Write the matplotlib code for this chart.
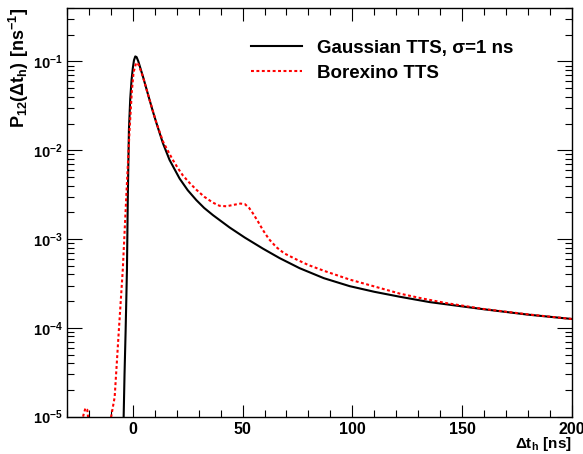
import matplotlib
matplotlib.use('Agg')
import matplotlib.pyplot as plt
from matplotlib.ticker import FixedLocator, MultipleLocator, LogLocator, NullFormatter
import numpy as np

# values
gauss_t = [-4.6, -4.2, -3.8, -3.3, -2.7, -2.3, -1.8, -1.2, -0.6, 0.0, 0.5, 1.1,
           1.7, 2.5, 3.5, 4.6, 6.1, 7.6, 9.0, 10.7, 13.7, 16.7, 21.3, 25.0, 28.9,
           32.5, 36.5, 44.1, 51.0, 59.3, 66.9, 76.0, 87.0, 98.8, 110.0, 121.7,
           135.3, 144.5, 160.0, 180.0, 200.0]
gauss_p = [5e-6, 1e-5, 3e-5, 9.3e-5, 4.5e-4, 3.0e-3, 0.017, 0.038, 0.062, 0.085,
           0.103, 0.114, 0.112, 0.100, 0.083, 0.0676, 0.050, 0.037, 0.028, 0.0204,
           0.0120, 0.0078, 0.0048, 0.00355, 0.00275, 0.00224, 0.00186, 0.00135,
           0.00104, 0.00078, 0.00061, 0.00047, 0.000363, 0.000295, 0.000255,
           0.000224, 0.000195, 0.000182, 0.000162, 0.000141, 0.000126]

borex_t = [-24.5, -23.5, -22.5, -21.6, -20.8, -20.0, -19.0, -12.0, -10.2, -9.9,
           -8.3, -6.4, -4.6, -3.0, -1.5, -0.5, 0.3, 1.5, 2.5, 3.5, 4.6, 7.6, 10.7,
           13.7, 16.0, 18.2, 20.5, 22.8, 25.8, 28.9, 32.5, 36.5, 39.5, 42.6, 46.0,
           49.0, 51.0, 53.0, 54.7, 57.0, 59.3, 62.0, 65.4, 69.0, 74.5, 80.0, 87.0,
           98.8, 110.0, 121.7, 132.0, 142.9, 160.0, 180.0, 200.0]
borex_p = [5e-6, 8e-6, 1.05e-5, 1.25e-5, 1.2e-5, 8e-6, 4e-6, 3e-6, 9e-6, 1e-5,
           1.66e-5, 9.3e-5, 4.5e-4, 3.0e-3, 0.017, 0.045, 0.075, 0.097, 0.093,
           0.080, 0.067, 0.037, 0.0205, 0.0126, 0.0098, 0.0078, 0.0063, 0.0052,
           0.0043, 0.0036, 0.0030, 0.00257, 0.00237, 0.00234, 0.00243, 0.00251,
           0.00248, 0.00224, 0.00195, 0.00158, 0.00126, 0.00100, 0.00081,
           0.00069, 0.00059, 0.00051, 0.00044, 0.00035, 0.000293, 0.000243,
           0.000214, 0.00019, 0.000163, 0.000142, 0.000126]

ytick_vals = [1e-5, 1e-4, 1e-3, 1e-2, 1e-1]
ytick_labels = [r'$\mathrm{10^{-5}}$', r'$\mathrm{10^{-4}}$', r'$\mathrm{10^{-3}}$',
                r'$\mathrm{10^{-2}}$', r'$\mathrm{10^{-1}}$']

plt.rcParams['font.family'] = ['Liberation Sans', 'DejaVu Sans']
plt.rcParams['font.weight'] = 'bold'
plt.rcParams['mathtext.fontset'] = 'custom'
plt.rcParams['mathtext.rm'] = 'Liberation Sans:bold'
plt.rcParams['mathtext.it'] = 'Liberation Sans:bold'
plt.rcParams['mathtext.bf'] = 'Liberation Sans:bold'

fig = plt.figure(figsize=(5.83, 4.54), dpi=100)
ax = fig.add_axes([0.115, 0.0822, 0.8656, 0.9002])

ax.plot(gauss_t, gauss_p, color='black', lw=1.5, label='Gaussian TTS, σ=1 ns')
ax.plot(borex_t, borex_p, color='red', lw=1.5, linestyle=(0, (1.4, 1.2)),
        label='Borexino TTS')

ax.set_yscale('log')
ax.set_xlim(-30, 200)
ax.set_ylim(1e-5, 0.4)

ax.xaxis.set_major_locator(MultipleLocator(50))
ax.xaxis.set_minor_locator(MultipleLocator(10))
ax.yaxis.set_major_locator(FixedLocator(ytick_vals))
ax.set_yticklabels(ytick_labels)
ax.yaxis.set_minor_locator(LogLocator(base=10, subs=np.arange(2, 10)))
ax.yaxis.set_minor_formatter(NullFormatter())

for s in ax.spines.values():
    s.set_linewidth(1.0)

ax.tick_params(which='both', direction='in', top=True, right=True, width=0.8)
ax.tick_params(axis='x', which='major', length=9, pad=4, labelsize=11.5)
ax.tick_params(axis='x', which='minor', length=4.8)
ax.tick_params(axis='y', which='major', length=10.8, pad=3, labelsize=10.5)
ax.tick_params(axis='y', which='minor', length=5.3)
for lab in ax.get_xticklabels():
    lab.set_fontweight('bold')

ylab = ax.set_ylabel(r'$\mathrm{P_{12}(\Delta t_{h})\ [ns^{-1}]}$', fontsize=13)
ax.yaxis.set_label_coords(-0.072, 1.0)
ylab.set_horizontalalignment('right')
xlab = ax.set_xlabel(r'$\mathrm{\Delta t_{h}\ [ns]}$', fontsize=11)
ax.xaxis.set_label_coords(1.0, -0.045)
xlab.set_horizontalalignment('right')

leg = ax.legend(loc='upper left', bbox_to_anchor=(0.364, 0.922), frameon=False,
                fontsize=13.5, handlelength=2.75, handletextpad=0.8, borderpad=0,
                borderaxespad=0, labelspacing=0.4)
for t in leg.get_texts():
    t.set_fontweight('bold')

fig.savefig('out.png', dpi=100)
